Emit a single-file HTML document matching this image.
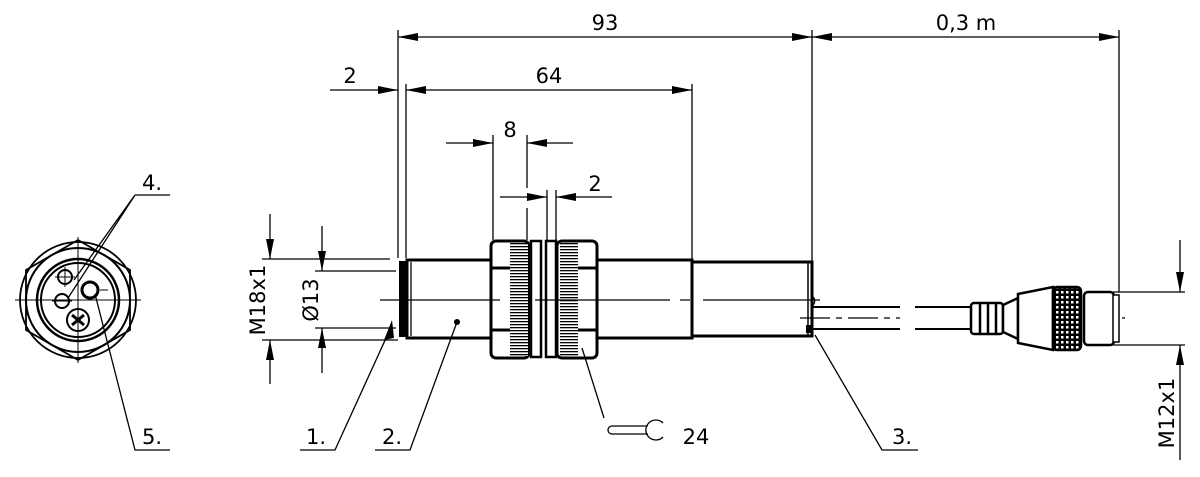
<!DOCTYPE html>
<html><head><meta charset="utf-8"><style>
html,body{margin:0;padding:0;background:#fff;}
svg{display:block;}
text{font-family:"DejaVu Sans","Liberation Sans",sans-serif;font-size:21px;fill:#000;}
</style></head><body>
<svg width="1200" height="477" viewBox="0 0 1200 477" xmlns="http://www.w3.org/2000/svg">
<defs>
<marker id="a" viewBox="0 0 20 8" refX="20" refY="4" markerWidth="20" markerHeight="8" markerUnits="userSpaceOnUse" orient="auto-start-reverse"><path d="M0,0 L20,4 L0,8z" fill="#000"/></marker>
<pattern id="kh" width="120" height="3" patternUnits="userSpaceOnUse"><rect width="120" height="3" fill="#fff"/><rect width="120" height="1.3" fill="#000"/></pattern>
<pattern id="xh" width="5" height="5" patternUnits="userSpaceOnUse"><rect width="5" height="5" fill="#000"/><rect x="1" y="1" width="2.5" height="2.5" fill="#fff"/></pattern>
</defs>
<g stroke="#000" stroke-width="1.3" fill="none">
<line x1="398" y1="30" x2="398" y2="258"/>
<line x1="406" y1="84" x2="406" y2="258"/>
<line x1="812" y1="30" x2="812" y2="262"/>
<line x1="1119" y1="30" x2="1119" y2="292"/>
<line x1="692" y1="84" x2="692" y2="260"/>
<line x1="493" y1="135" x2="493" y2="240"/>
<line x1="527" y1="135" x2="527" y2="188"/>
<line x1="547" y1="190" x2="547" y2="240"/>
<line x1="556" y1="190" x2="556" y2="240"/>
<line x1="527" y1="208" x2="527" y2="240"/>
<line x1="398" y1="37" x2="812" y2="37" marker-start="url(#a)" marker-end="url(#a)"/>
<line x1="812" y1="37" x2="1119" y2="37" marker-start="url(#a)" marker-end="url(#a)"/>
<line x1="330" y1="90" x2="398" y2="90" marker-end="url(#a)"/>
<line x1="406" y1="90" x2="692" y2="90" marker-start="url(#a)" marker-end="url(#a)"/>
<line x1="446" y1="143" x2="493" y2="143" marker-end="url(#a)"/>
<line x1="573" y1="143" x2="527" y2="143" marker-end="url(#a)"/>
<line x1="500" y1="197" x2="547" y2="197" marker-end="url(#a)"/>
<line x1="612" y1="197" x2="556" y2="197" marker-end="url(#a)"/>
<line x1="262" y1="259" x2="390" y2="259"/>
<line x1="262" y1="340" x2="398" y2="340"/>
<line x1="270" y1="214" x2="270" y2="259" marker-end="url(#a)"/>
<line x1="270" y1="384" x2="270" y2="340" marker-end="url(#a)"/>
<line x1="315" y1="271" x2="396" y2="271"/>
<line x1="315" y1="328" x2="396" y2="328"/>
<line x1="322" y1="226" x2="322" y2="271" marker-end="url(#a)"/>
<line x1="322" y1="373" x2="322" y2="328" marker-end="url(#a)"/>
<line x1="1113" y1="292" x2="1185" y2="292"/>
<line x1="1113" y1="345" x2="1185" y2="345"/>
<line x1="1180" y1="240" x2="1180" y2="292" marker-end="url(#a)"/>
<line x1="1180" y1="460" x2="1180" y2="345" marker-end="url(#a)"/>
</g>
<g stroke="#000" fill="#fff">
<rect x="400" y="262" width="5" height="74" stroke-width="2" fill="#000"/>
<rect x="407" y="260" width="84" height="78" stroke-width="3"/>
<line x1="411" y1="262" x2="411" y2="336" stroke-width="1.3"/>
<rect x="597" y="260" width="95" height="78" stroke-width="3"/>
<rect x="692" y="262" width="120" height="74" stroke-width="3"/>
<line x1="808" y1="263" x2="808" y2="336" stroke-width="1.5"/>
<rect x="491" y="241" width="38" height="117" rx="5" stroke-width="3"/>
<rect x="510" y="243" width="18" height="113" fill="url(#kh)" stroke="none"/>
<line x1="491" y1="268" x2="510" y2="268" stroke-width="3"/>
<line x1="491" y1="330" x2="510" y2="330" stroke-width="3"/>
<rect x="531" y="241" width="10" height="116" stroke-width="2.5"/>
<rect x="546" y="241" width="10" height="116" stroke-width="2.5"/>
<rect x="557" y="241" width="40" height="117" rx="5" stroke-width="3"/>
<rect x="560" y="243" width="18" height="113" fill="url(#kh)" stroke="none"/>
<line x1="578" y1="268" x2="597" y2="268" stroke-width="3"/>
<line x1="578" y1="330" x2="597" y2="330" stroke-width="3"/>
<rect x="806" y="325" width="5" height="8" fill="#000" stroke="none"/>
</g>
<g stroke="#000" stroke-width="1.2">
<line x1="380" y1="300" x2="500" y2="300"/><line x1="535" y1="300" x2="670" y2="300"/><line x1="680" y1="300" x2="690" y2="300"/><line x1="703" y1="300" x2="820" y2="300"/>
<line x1="800" y1="318" x2="900" y2="318" stroke-dasharray="30,6,6,6"/>
<line x1="990" y1="318" x2="1125" y2="318" stroke-dasharray="30,6,6,6"/>
</g>
<g stroke="#000" stroke-width="2" fill="none">
<path d="M812,307 H900 M812,329 H900 M915,307 H972 M915,329 H972"/>
<path d="M812,296 a6,6 0 0 1 0,10" stroke-width="1.3"/>
</g>
<g stroke="#000" stroke-width="2.5" fill="#fff">
<rect x="971" y="303" width="32" height="31" rx="3"/>
<line x1="980" y1="303" x2="980" y2="334"/><line x1="988" y1="303" x2="988" y2="334"/><line x1="996" y1="303" x2="996" y2="334"/>
<path d="M1003,305 L1018,298 V339 L1003,332 Z"/>
<path d="M1018,294 L1053,287 V350 L1018,343 Z"/>
<rect x="1053" y="287" width="28" height="63" rx="4" fill="url(#xh)"/>
<rect x="1084" y="292" width="30" height="53" rx="4"/>
<rect x="1113" y="295" width="6" height="47" stroke-width="1.5"/>
</g>
<g stroke="#000" fill="none" stroke-width="2">
<polygon points="78,240 130,270 130,330 78,360 26,330 26,270" stroke-width="1.8"/>
<circle cx="78" cy="300" r="58" stroke-width="1.8"/>
<circle cx="78" cy="300" r="52"/>
<circle cx="78" cy="300" r="41" stroke-width="2.5"/>
<circle cx="78" cy="300" r="37"/>
<circle cx="65" cy="277" r="7"/>
<circle cx="62" cy="301" r="7"/>
<circle cx="90" cy="290" r="8" stroke-width="3"/>
<circle cx="78" cy="320" r="11"/>
<path d="M72,315 l12,10 M84,315 l-12,10" stroke-width="3"/>
<g stroke-width="1"><line x1="15" y1="300" x2="141" y2="300"/><line x1="78" y1="237" x2="78" y2="363"/>
<line x1="55" y1="277" x2="75" y2="277"/><line x1="65" y1="267" x2="65" y2="287"/>
<line x1="52" y1="301" x2="72" y2="301"/><line x1="100" y1="290" x2="108" y2="290"/></g>
</g>
<g stroke="#000" stroke-width="1.3" fill="none">
<path d="M135,195 H170 M135,195 L74,280 M135,195 L68,298"/>
<path d="M170,450 H135 L95,294"/>
<path d="M300,450 H335 L392,325"/>
<path d="M375,450 H410 L457,322"/>
<path d="M582,348 L604,418"/>
<path d="M918,450 H882 L815,335"/>
<path d="M648,426 H612 a4,4 0 0 0 0,8 H648"/>
<path d="M663,423 A10,10 0 1 0 663,437"/>
</g>
<polygon points="392,320 384,340 394,338" fill="#000"/>
<circle cx="457" cy="322" r="3" fill="#000"/>
<text x="605" y="30" text-anchor="middle">93</text>
<text x="966" y="30" text-anchor="middle">0,3 m</text>
<text x="350" y="83" text-anchor="middle">2</text>
<text x="549" y="83" text-anchor="middle">64</text>
<text x="510" y="137" text-anchor="middle">8</text>
<text x="595" y="191" text-anchor="middle">2</text>
<text x="152" y="190" text-anchor="middle">4.</text>
<text x="152" y="444" text-anchor="middle">5.</text>
<text x="316" y="444" text-anchor="middle">1.</text>
<text x="392" y="444" text-anchor="middle">2.</text>
<text x="902" y="444" text-anchor="middle">3.</text>
<text x="696" y="444" text-anchor="middle">24</text>
<text transform="translate(265,300) rotate(-90)" text-anchor="middle">M18x1</text>
<text transform="translate(318,300) rotate(-90)" text-anchor="middle">Ø13</text>
<text transform="translate(1174,413) rotate(-90)" text-anchor="middle">M12x1</text>
</svg>
</body></html>
